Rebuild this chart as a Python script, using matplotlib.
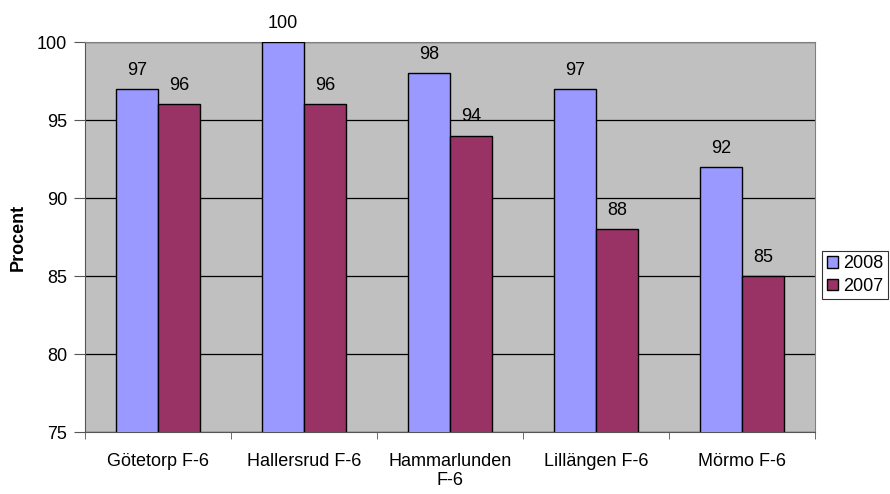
import matplotlib.pyplot as plt
import numpy as np

plt.rcParams['font.family'] = ['Liberation Sans', 'DejaVu Sans']

skolor = ["Götetorp F-6", "Hallersrud F-6", "Hammarlunden\nF-6", "Lillängen F-6", "Mörmo F-6"]
serie_2008 = [97, 100, 98, 97, 92]
serie_2007 = [96, 96, 94, 88, 85]

fs = 13

fig = plt.figure(figsize=(8.9, 4.94), dpi=100)
ax = fig.add_axes([85 / 890, 62 / 494, 730 / 890, 390 / 494])
ax.set_facecolor("#C0C0C0")

pos = np.arange(len(skolor))
bredd = 1 / 3.5
b1 = ax.bar(pos - bredd / 2, serie_2008, bredd, color="#9999FF",
            edgecolor="black", linewidth=1, label="2008", zorder=3)
b2 = ax.bar(pos + bredd / 2, serie_2007, bredd, color="#993366",
            edgecolor="black", linewidth=1, label="2007", zorder=3)

for bars in (b1, b2):
    for bar in bars:
        ax.text(bar.get_x() + bar.get_width() / 2, bar.get_height() + 0.65,
                str(int(bar.get_height())), ha="center", va="bottom", fontsize=fs)

ax.set_ylim(75, 100)
ax.set_xlim(-0.5, len(skolor) - 0.5)
ax.set_yticks(range(75, 101, 5))
ax.yaxis.grid(True, color="black", linewidth=0.9, zorder=1)
ax.set_axisbelow(True)

ax.set_xticks(pos)
ax.set_xticklabels(skolor, fontsize=fs, linespacing=1.2)
ax.set_xticks(np.arange(-0.5, len(skolor)), minor=True)
ax.tick_params(axis="x", which="major", length=0, pad=15)
ax.tick_params(axis="x", which="minor", length=5, color="#555555")
ax.tick_params(axis="y", length=8, color="#555555", labelsize=fs, pad=5)

for s in ("top", "right"):
    ax.spines[s].set_color("#808080")
for s in ("left", "bottom"):
    ax.spines[s].set_color("#555555")

ax.set_ylabel("Procent", fontweight="bold", fontsize=fs)
ax.yaxis.set_label_coords(-58 / 730, 0.5)

leg = fig.legend(handles=[b1, b2], loc="center", bbox_to_anchor=(855 / 890, 1 - 275 / 494),
                 fontsize=fs, frameon=True, fancybox=False, edgecolor="black",
                 handlelength=0.6, handleheight=0.6, handletextpad=0.3,
                 borderpad=0.25, labelspacing=0.3, borderaxespad=0)
leg.get_frame().set_linewidth(0.8)

fig.savefig("out.png", dpi=100)
